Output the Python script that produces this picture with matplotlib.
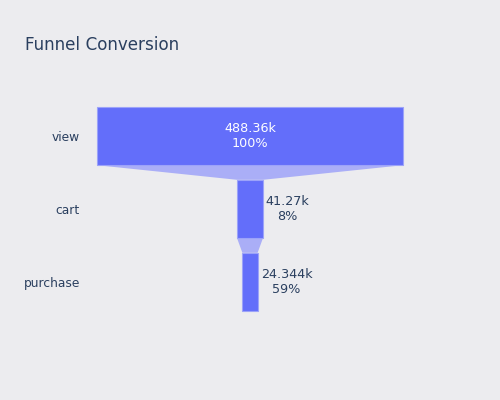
import matplotlib
matplotlib.use("Agg")
import matplotlib.pyplot as plt
from matplotlib.patches import Polygon

stages = ["view", "cart", "purchase"]
counts = [488360, 41270, 24344]

BG = "#ECECEF"
BAR = "#636EFA"
CONN = "#AAAEF7"
TXT = "#2a3f5f"

W, H = 500, 400
fig = plt.figure(figsize=(5, 4), dpi=100, facecolor=BG)
# plot area in pixels: x 80..420, y 99.5..318.5
ax = fig.add_axes([80 / W, (H - 318.5) / H, 340 / W, 219 / H])
ax.set_facecolor(BG)

vmax = max(counts)
half = (vmax / 2) * (170 / 153)
ax.set_xlim(-half, half)
ax.set_ylim(len(stages) - 0.5, -0.5)

bh = 0.8
ys = list(range(len(stages)))
ax.barh(ys, counts, left=[-c / 2 for c in counts], height=bh, color=BAR,
        edgecolor="#9CA3F9", linewidth=0.8, zorder=3)

for i in range(len(counts) - 1):
    a, b = counts[i], counts[i + 1]
    y0, y1 = i + bh / 2, i + 1 - bh / 2
    poly = Polygon([(-a / 2, y0), (a / 2, y0), (b / 2, y1), (-b / 2, y1)],
                   closed=True, facecolor=CONN, edgecolor="none", zorder=2)
    ax.add_patch(poly)

for i, c in enumerate(counts):
    pct = 100 if i == 0 else round(c / counts[i - 1] * 100)
    label = f"{c / 1000:g}k\n{pct}%"
    if i == 0:
        ax.text(0, i, label, ha="center", va="center", color="white",
                fontsize=9.2, linespacing=1.25, zorder=4)
    else:
        ax.annotate(label, xy=(c / 2, i), xytext=(3, 0), textcoords="offset pixels",
                    ha="left", va="center", color=TXT, fontsize=9.2,
                    multialignment="center", linespacing=1.25, zorder=4)

ax.set_yticks(ys)
ax.set_yticklabels(stages, color=TXT, fontsize=8.8)
ax.tick_params(axis="y", length=0, pad=0)
ax.set_xticks([])
for s in ax.spines.values():
    s.set_visible(False)

fig.text(25 / W, 1 - 45 / H, "Funnel Conversion", ha="left", va="center",
         color=TXT, fontsize=12.1)

fig.savefig("out.png", dpi=100, facecolor=BG)
